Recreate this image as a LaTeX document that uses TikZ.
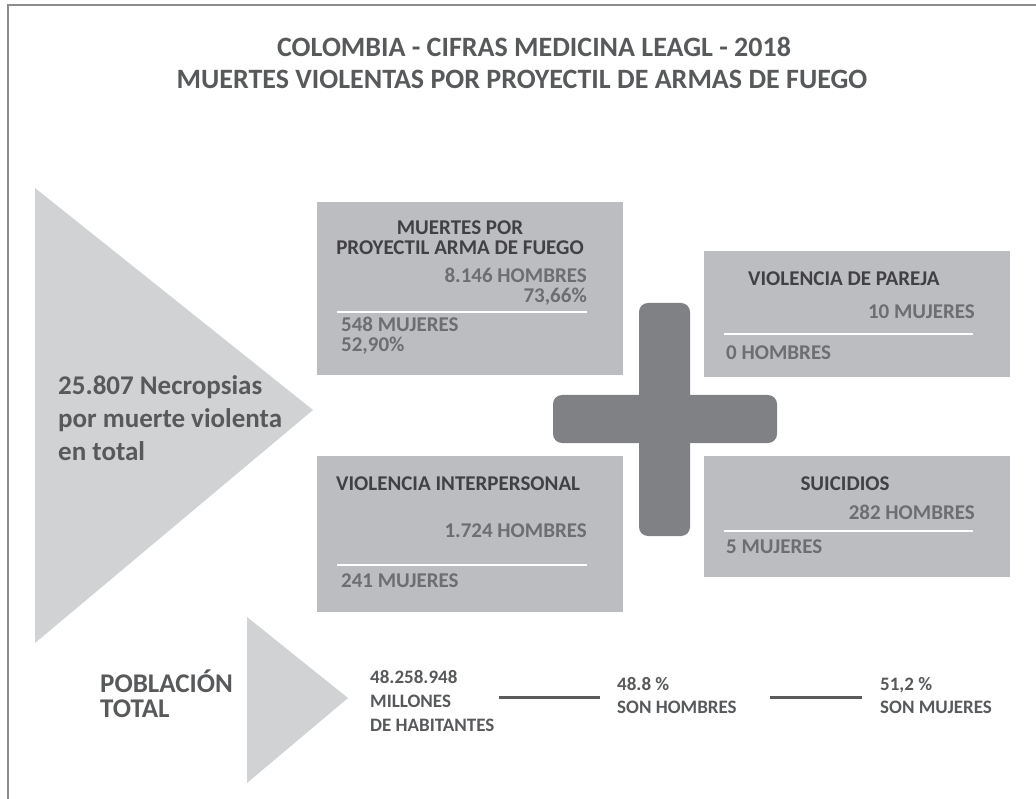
\documentclass[tikz,border=0pt]{standalone}
\usepackage{fontspec}
\setmainfont{Carlito}
\definecolor{framegray}{HTML}{8C8C8C}
\definecolor{tri}{HTML}{D1D2D4}
\definecolor{boxgray}{HTML}{BCBDC0}
\definecolor{plusgray}{HTML}{808184}
\definecolor{titlegray}{HTML}{58595B}
\definecolor{darktxt}{HTML}{414042}
\definecolor{numtxt}{HTML}{6D6E71}
\definecolor{linegray}{HTML}{5A5B5D}
\tikzset{
  txt/.style={inner sep=0pt, font=\bfseries},
  ttl/.style={txt, text=titlegray, font=\bfseries\fontsize{28}{32}\selectfont},
  bigt/.style={txt, text=titlegray, font=\bfseries\fontsize{27}{32}\selectfont},
  popt/.style={txt, text=titlegray, font=\bfseries\fontsize{19}{24}\selectfont},
  boxttl/.style={txt, text=darktxt, font=\bfseries\fontsize{21}{18}\selectfont},
  boxnum/.style={txt, text=numtxt, font=\bfseries\fontsize{21}{18}\selectfont},
  panel/.style={fill=boxgray, draw=none, inner sep=0pt, anchor=north west},
  sep/.style={white, line width=2.5pt},
  dash line/.style={linegray, line width=3pt},
  bar/.style={fill=plusgray, draw=none, rounded corners=9pt},
}
\begin{document}
\begin{tikzpicture}[x=1pt,y=-1pt]
\useasboundingbox (0,0) rectangle (1036,799);
% frame
\draw[framegray, line width=2pt] (8,799) -- (8,5) -- (1036,5);
% title
\node[ttl, anchor=base] (t1) at (534,57) {COLOMBIA - CIFRAS MEDICINA LEAGL - 2018};
\node[ttl, anchor=base] (t2) at (522,89) {MUERTES VIOLENTAS POR PROYECTIL DE ARMAS DE FUEGO};
% big triangle
\fill[tri] (35,188) -- (313,410) -- (35,643) -- cycle;
\node[bigt, anchor=base west] (n1) at (58,395) {25.807 Necropsias};
\node[bigt, anchor=base west] (n2) at (58,428) {por muerte violenta};
\node[bigt, anchor=base west] (n3) at (58,460) {en total};
% panels
\node[panel, minimum width=306pt, minimum height=173pt] (b1) at (317,202) {};
\node[panel, minimum width=306pt, minimum height=126pt] (b2) at (704,251) {};
\node[panel, minimum width=306pt, minimum height=156pt] (b3) at (317,456) {};
\node[panel, minimum width=306pt, minimum height=121pt] (b4) at (704,456) {};
% plus
\path[bar] (639,303) rectangle (690,536);
\path[bar] (553,395) rectangle (777,443);
% panel 1
\node[boxttl, anchor=base] (p1a) at (460,235) {\begin{tabular}[t]{@{}c@{}}MUERTES POR\\PROYECTIL ARMA DE FUEGO\end{tabular}};
\node[boxnum, anchor=base east] (p1c) at (587,283) {\begin{tabular}[t]{@{}r@{}}8.146 HOMBRES\\73,66\%\end{tabular}};
\draw[sep] (337,312) -- (587,312);
\node[boxnum, anchor=base west] (p1e) at (341,332) {\begin{tabular}[t]{@{}l@{}}548 MUJERES\\52,90\%\end{tabular}};
% panel 2
\node[boxttl, anchor=base west] (p2a) at (748,286) {VIOLENCIA DE PAREJA};
\node[boxnum, anchor=base east] (p2b) at (975,319) {10 MUJERES};
\draw[sep] (724,334) -- (973,334);
\node[boxnum, anchor=base west] (p2c) at (726,360) {0 HOMBRES};
% panel 3
\node[boxttl, anchor=base west] (p3a) at (336,490) {VIOLENCIA INTERPERSONAL};
\node[boxnum, anchor=base east] (p3b) at (587,537) {1.724 HOMBRES};
\draw[sep] (337,565) -- (587,565);
\node[boxnum, anchor=base west] (p3c) at (341,587) {241 MUJERES};
% panel 4
\node[boxttl, anchor=base] (p4a) at (845,490) {SUICIDIOS};
\node[boxnum, anchor=base east] (p4b) at (975,519) {282 HOMBRES};
\draw[sep] (724,531) -- (973,531);
\node[boxnum, anchor=base west] (p4c) at (726,553) {5 MUJERES};
% population
\fill[tri] (247,617) -- (348,698) -- (247,783) -- cycle;
\node[bigt, anchor=base west] (po1) at (100,692) {POBLACIÓN};
\node[bigt, anchor=base west] (po2) at (100,717) {TOTAL};
\node[popt, anchor=base west] (h1) at (370,683) {48.258.948};
\node[popt, anchor=base west] (h2) at (370,707) {MILLONES};
\node[popt, anchor=base west] (h3) at (370,731) {DE HABITANTES};
\coordinate (l1a) at (499,697);
\coordinate (l1b) at (600,697);
\coordinate (l2a) at (770,697);
\coordinate (l2b) at (862,697);
\draw[dash line] (l1a) -- (l1b);
\draw[dash line] (l2a) -- (l2b);
\node[popt, anchor=base west] (m1) at (617,690) {48.8 \%};
\node[popt, anchor=base west] (m2) at (617,713) {SON HOMBRES};
\node[popt, anchor=base west] (w1) at (880,690) {51,2 \%};
\node[popt, anchor=base west] (w2) at (880,713) {SON MUJERES};
\end{tikzpicture}
\end{document}
